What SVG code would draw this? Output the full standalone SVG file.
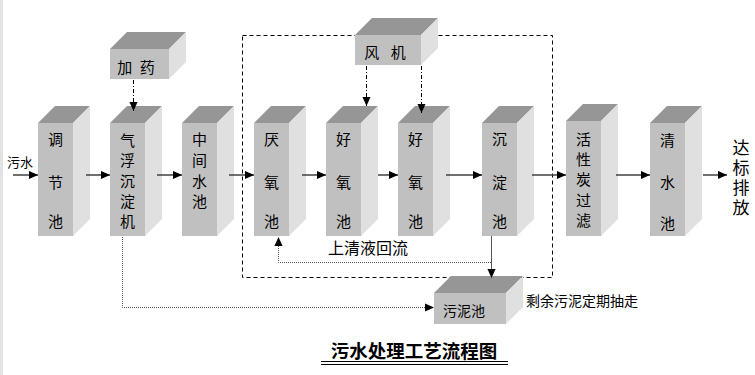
<svg xmlns="http://www.w3.org/2000/svg" width="755" height="375" viewBox="0 0 755 375">
<defs>
<style>
.front{fill:#c0c0c0}
.top{fill:#969696}
.side{fill:#e0e0e0}
.lbl{font-family:"Noto Sans CJK SC","Noto Sans",sans-serif;font-size:15px;fill:#000;text-anchor:middle}
.txt{font-family:"Noto Sans CJK SC","Noto Sans",sans-serif;fill:#000}
.flow{stroke:#404040;stroke-width:1.5;fill:none}
.dd{stroke:#000;stroke-width:1;fill:none;stroke-dasharray:4 2 1 2}
.dot{stroke:#555;stroke-width:1;fill:none;stroke-dasharray:1 1}
.thin{stroke:#555;stroke-width:1;fill:none}
</style>
<marker id="ah" viewBox="0 0 10 10" refX="10" refY="5" markerWidth="9" markerHeight="9" markerUnits="userSpaceOnUse" orient="auto">
<path d="M0,0.5 L10,5 L0,9.5 z" fill="#000"/>
</marker>
</defs>
<rect x="0" y="0" width="755" height="375" fill="#fff"/>
<rect x="0" y="0" width="3" height="375" fill="#e3e3e3"/>

<rect id="zone" x="242.5" y="35.5" width="310" height="242" fill="none" stroke="#000" stroke-width="1" stroke-dasharray="4 3"/>

<g id="n1">
<polygon class="top" points="38,123 55,106 90,106 73,123"/>
<polygon class="side" points="73,123 90,106 90,219 73,236"/>
<rect class="front" x="38" y="123" width="35" height="113"/>
<text class="lbl" x="55.5" y="144.5">调</text><text class="lbl" x="55.5" y="187.5">节</text><text class="lbl" x="55.5" y="226.5">池</text>
</g>
<g id="n2">
<polygon class="top" points="110,123 127,106 162,106 145,123"/>
<polygon class="side" points="145,123 162,106 162,219 145,236"/>
<rect class="front" x="110" y="123" width="35" height="113"/>
<text class="lbl" x="127.5" y="145.5">气</text><text class="lbl" x="127.5" y="165.5">浮</text><text class="lbl" x="127.5" y="186.5">沉</text><text class="lbl" x="127.5" y="206.5">淀</text><text class="lbl" x="127.5" y="226.5">机</text>
</g>
<g id="n3">
<polygon class="top" points="182,123 199,106 234,106 217,123"/>
<polygon class="side" points="217,123 234,106 234,219 217,236"/>
<rect class="front" x="182" y="123" width="35" height="113"/>
<text class="lbl" x="199.5" y="144.5">中</text><text class="lbl" x="199.5" y="165.5">间</text><text class="lbl" x="199.5" y="186.5">水</text><text class="lbl" x="199.5" y="206.5">池</text>
</g>
<g id="n4">
<polygon class="top" points="254,123 271,106 306,106 289,123"/>
<polygon class="side" points="289,123 306,106 306,219 289,236"/>
<rect class="front" x="254" y="123" width="35" height="113"/>
<text class="lbl" x="271.5" y="144.5">厌</text><text class="lbl" x="271.5" y="187.5">氧</text><text class="lbl" x="271.5" y="226.5">池</text>
</g>
<g id="n5">
<polygon class="top" points="326,123 343,106 378,106 361,123"/>
<polygon class="side" points="361,123 378,106 378,219 361,236"/>
<rect class="front" x="326" y="123" width="35" height="113"/>
<text class="lbl" x="343.5" y="144.5">好</text><text class="lbl" x="343.5" y="187.5">氧</text><text class="lbl" x="343.5" y="226.5">池</text>
</g>
<g id="n6">
<polygon class="top" points="398,123 415,106 450,106 433,123"/>
<polygon class="side" points="433,123 450,106 450,219 433,236"/>
<rect class="front" x="398" y="123" width="35" height="113"/>
<text class="lbl" x="415.5" y="144.5">好</text><text class="lbl" x="415.5" y="187.5">氧</text><text class="lbl" x="415.5" y="226.5">池</text>
</g>
<g id="n7">
<polygon class="top" points="482,123 499,106 534,106 517,123"/>
<polygon class="side" points="517,123 534,106 534,219 517,236"/>
<rect class="front" x="482" y="123" width="35" height="113"/>
<text class="lbl" x="499.5" y="144.5">沉</text><text class="lbl" x="499.5" y="187.5">淀</text><text class="lbl" x="499.5" y="226.5">池</text>
</g>
<g id="n8">
<polygon class="top" points="566,121 583,104 618,104 601,121"/>
<polygon class="side" points="601,121 618,104 618,219 601,236"/>
<rect class="front" x="566" y="121" width="35" height="115"/>
<text class="lbl" x="583.5" y="144.5">活</text><text class="lbl" x="583.5" y="164.5">性</text><text class="lbl" x="583.5" y="184.5">炭</text><text class="lbl" x="583.5" y="205.5">过</text><text class="lbl" x="583.5" y="225.5">滤</text>
</g>
<g id="n9">
<polygon class="top" points="650,123 667,106 702,106 685,123"/>
<polygon class="side" points="685,123 702,106 702,219 685,236"/>
<rect class="front" x="650" y="123" width="35" height="113"/>
<text class="lbl" x="667.5" y="145.5">清</text><text class="lbl" x="667.5" y="187.5">水</text><text class="lbl" x="667.5" y="228.5">池</text>
</g>
<g id="dosing">
<polygon class="top" points="110,49 127,32 186,32 169,49"/>
<polygon class="side" points="169,49 186,32 186,62 169,79"/>
<rect class="front" x="110" y="49" width="59" height="30"/>
<text class="lbl" x="136" y="72.5" word-spacing="4">加 药</text>
</g>
<g id="blower">
<polygon class="top" points="355,35 372,18 438,18 421,35"/>
<polygon class="side" points="421,35 438,18 438,48 421,65"/>
<rect class="front" x="355" y="35" width="66" height="30"/>
<text class="lbl" x="385" y="57.5" word-spacing="8">风 机</text>
</g>
<g id="sludge">
<polygon class="top" points="434,293 451,276 523,276 506,293"/>
<polygon class="side" points="506,293 523,276 523,307 506,324"/>
<rect class="front" x="434" y="293" width="72" height="31"/>
<text class="txt" x="443" y="316" font-size="14">污泥池</text>
</g>

<g id="connectors">
<line class="flow" x1="13" y1="175" x2="38" y2="175" marker-end="url(#ah)"/>
<line class="flow" x1="86" y1="175" x2="110" y2="175" marker-end="url(#ah)"/>
<line class="flow" x1="157" y1="175" x2="182" y2="175" marker-end="url(#ah)"/>
<line class="flow" x1="229" y1="175" x2="254" y2="175" marker-end="url(#ah)"/>
<line class="flow" x1="302" y1="175" x2="326" y2="175" marker-end="url(#ah)"/>
<line class="flow" x1="378" y1="175" x2="398" y2="175" marker-end="url(#ah)"/>
<line class="flow" x1="446" y1="175" x2="482" y2="175" marker-end="url(#ah)"/>
<line class="flow" x1="532" y1="175" x2="566" y2="175" marker-end="url(#ah)"/>
<line class="flow" x1="616" y1="175" x2="650" y2="175" marker-end="url(#ah)"/>
<line class="flow" x1="703" y1="175" x2="727" y2="175" marker-end="url(#ah)"/>
<line class="dd" x1="133.5" y1="80" x2="133.5" y2="111" marker-end="url(#ah)"/>
<line class="dd" x1="366.5" y1="66" x2="366.5" y2="106" marker-end="url(#ah)"/>
<line class="dd" x1="421.5" y1="66" x2="421.5" y2="113" marker-end="url(#ah)"/>
<line class="thin" x1="491.5" y1="236" x2="491.5" y2="278" marker-end="url(#ah)"/>
<polyline class="dot" points="491,262.5 278.5,262.5 278.5,237" marker-end="url(#ah)"/>
<polyline class="dot" points="122.5,237 122.5,307.5 434,307.5" marker-end="url(#ah)"/>
</g>

<text class="txt" x="7" y="167" font-size="13">污水</text>
<text class="txt" x="741" y="139.5" font-size="17" writing-mode="vertical-rl" letter-spacing="3">达标排放</text>
<text class="txt" x="328" y="254" font-size="16">上清液回流</text>
<text class="txt" x="526" y="306" font-size="14">剩余污泥定期抽走</text>
<text class="txt" x="414" y="358" font-size="18.5" font-weight="bold" text-anchor="middle">污水处理工艺流程图</text>
<line x1="321" y1="361.5" x2="508" y2="361.5" stroke="#000" stroke-width="1"/>
<line x1="321" y1="364.5" x2="508" y2="364.5" stroke="#000" stroke-width="1"/>
</svg>
